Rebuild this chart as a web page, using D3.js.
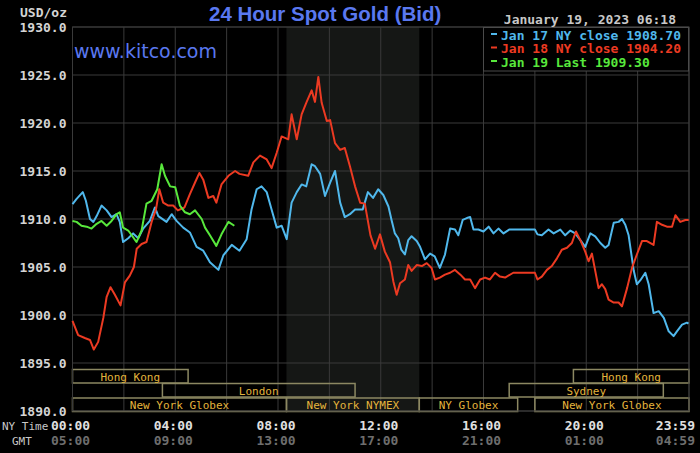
<!DOCTYPE html>
<html>
<head>
<meta charset="utf-8">
<script src="https://cdn.jsdelivr.net/npm/d3@7"></script>
<style>
  body { margin: 0; background: #000; }
  svg { display: block; background: #000; }
</style>
</head>
<body>
<svg width="700" height="453"></svg>
<script>
// Series: [hour of NY day, price]
const jan17 = [
  [0,1911.55],[0.16,1912.1],[0.4,1912.8],[0.52,1911.9],[0.68,1910],[0.81,1909.7],[0.94,1910.3],[1.13,1911.4],
  [1.33,1910.9],[1.52,1910.2],[1.71,1910.5],[1.84,1909.7],[1.97,1907.6],[2.17,1908],[2.36,1908.5],[2.56,1908],
  [2.75,1909],[3.01,1909.8],[3.21,1911.2],[3.34,1910.3],[3.66,1909.7],[3.86,1910.5],[4.05,1909.8],[4.31,1909.1],
  [4.57,1908.6],[4.83,1907.1],[5.09,1906.7],[5.35,1905.5],[5.68,1904.7],[5.87,1906.2],[6.2,1907.3],[6.5,1906.7],
  [6.78,1907.9],[6.97,1911],[7.17,1913.1],[7.36,1913.4],[7.56,1912.8],[7.75,1911],[7.95,1909.1],[8.14,1909.3],
  [8.34,1907.9],[8.53,1911.7],[8.73,1912.8],[8.92,1913.6],[9.1,1913.4],[9.31,1915.7],[9.44,1915.5],[9.64,1914.7],
  [9.83,1912.4],[10.03,1913.8],[10.22,1915],[10.42,1911.7],[10.6,1910.2],[10.8,1910.5],[11,1911],[11.3,1911],
  [11.5,1912.8],[11.7,1912.2],[11.9,1913.1],[12.1,1912.5],[12.3,1911.3],[12.42,1909.9],[12.55,1908.5],[12.68,1908],
  [12.8,1906.8],[12.94,1906.3],[13.07,1907.8],[13.2,1908.2],[13.4,1907.7],[13.53,1907.1],[13.72,1905.8],[13.92,1906.4],
  [14.1,1906.1],[14.3,1904.9],[14.5,1906.3],[14.7,1909],[14.89,1908.9],[15.02,1908.3],[15.19,1909.9],[15.35,1910.1],
  [15.48,1910.2],[15.61,1908.9],[15.8,1908.9],[16,1908.7],[16.2,1909.2],[16.39,1908.5],[16.58,1909],[16.78,1908.5],
  [17,1908.9],[17.42,1908.9],[18,1908.9],[18.1,1908.4],[18.27,1908.3],[18.53,1908.9],[18.73,1908.5],[18.99,1908.9],
  [19.18,1908.3],[19.38,1908.8],[19.57,1908.5],[19.77,1907.8],[19.96,1907.1],[20.16,1908.5],[20.35,1908.2],[20.55,1907.5],
  [20.74,1907],[20.87,1907.3],[21.07,1909.6],[21.26,1909.7],[21.39,1910],[21.52,1909.4],[21.65,1908.3],[21.72,1907],
  [21.85,1904.6],[21.97,1903.2],[22.1,1903.6],[22.3,1904.4],[22.43,1903.2],[22.62,1900.2],[22.82,1900.4],[23.02,1899.7],
  [23.21,1898.3],[23.4,1897.8],[23.53,1898.3],[23.73,1899],[23.92,1899.2],[23.98,1899.1]
];
const jan18 = [
  [0,1899.4],[0.22,1897.9],[0.48,1897.6],[0.68,1897.4],[0.83,1896.4],[1.0,1897.2],[1.2,1899.7],[1.33,1901.9],
  [1.48,1902.9],[1.65,1902.1],[1.87,1901],[2.04,1903.4],[2.23,1904.1],[2.39,1905],[2.5,1906.9],[2.69,1907.4],
  [2.88,1907.6],[3.08,1909.7],[3.25,1911],[3.38,1913.1],[3.53,1911.7],[3.73,1911.4],[3.92,1911.4],[4.1,1910.9],
  [4.36,1911.2],[4.57,1912.6],[4.77,1913.8],[4.94,1914.8],[5.09,1914.1],[5.29,1912.2],[5.48,1912.4],[5.6,1911.7],
  [5.8,1913.6],[6.07,1914.5],[6.33,1915],[6.5,1914.7],[6.84,1914.5],[7.04,1915.9],[7.3,1916.6],[7.56,1916.2],
  [7.75,1915.3],[7.95,1916.9],[8.14,1918.6],[8.4,1918.3],[8.53,1920.9],[8.73,1918.3],[8.92,1920.9],[9.1,1922.1],
  [9.31,1923.4],[9.44,1922.2],[9.57,1924.8],[9.7,1922.1],[9.9,1920.2],[10.03,1920.3],[10.22,1917.9],[10.42,1917.2],
  [10.6,1917.4],[10.8,1915.5],[11.0,1913.4],[11.2,1911.7],[11.38,1911.6],[11.6,1908.3],[11.78,1906.9],[11.97,1908.4],
  [12.16,1906.6],[12.36,1905.5],[12.49,1903.5],[12.62,1902.1],[12.75,1903.3],[12.94,1903.7],[13.07,1905.2],[13.2,1904.6],
  [13.4,1905.2],[13.6,1905.1],[13.79,1905.4],[13.98,1904.9],[14.11,1903.7],[14.3,1903.9],[14.5,1904.2],[14.7,1904.4],
  [14.89,1904.7],[15.1,1904.2],[15.28,1903.7],[15.48,1903.7],[15.67,1902.8],[15.87,1903.7],[16.06,1903.9],[16.25,1903.7],
  [16.45,1904.4],[16.64,1904],[16.84,1903.9],[17.16,1904.4],[17.42,1904.4],[18,1904.4],[18.1,1903.7],[18.27,1904],
  [18.47,1904.7],[18.66,1905.1],[18.86,1905.9],[19.05,1906.8],[19.25,1907],[19.44,1907.5],[19.6,1908.7],[19.77,1907.8],
  [19.96,1906.6],[20.09,1905.6],[20.22,1906.4],[20.35,1904.6],[20.48,1902.8],[20.61,1903.2],[20.74,1902.7],[20.87,1901.6],
  [21.07,1901.3],[21.26,1901.3],[21.39,1900.9],[21.59,1902.8],[21.78,1904.9],[21.97,1906.3],[22.17,1907.7],[22.36,1907.7],
  [22.62,1907.3],[22.75,1909.7],[22.95,1909.4],[23.14,1909.2],[23.34,1909.2],[23.47,1910.4],[23.66,1909.7],[23.86,1909.9],
  [23.99,1909.9]
];
const jan19 = [
  [0,1909.8],[0.16,1909.7],[0.35,1909.3],[0.55,1909.2],[0.74,1909],[0.94,1909.5],[1.13,1909.8],[1.33,1909.3],
  [1.52,1909.8],[1.72,1910.5],[1.84,1910.7],[1.97,1909.1],[2.17,1908.8],[2.36,1908.1],[2.49,1907.6],[2.69,1908.8],
  [2.88,1911.6],[3.08,1911.9],[3.3,1913.1],[3.47,1915.7],[3.6,1914.5],[3.8,1913.4],[4.0,1913.3],[4.18,1911.4],
  [4.38,1910.7],[4.57,1910.5],[4.77,1910.9],[5.03,1910],[5.16,1909.1],[5.35,1908.3],[5.6,1907.2],[5.8,1908.4],
  [6.07,1909.7],[6.3,1909.3]
];

const seriesNames = ["Jan 17 NY close 1908.70", "Jan 18 NY close 1904.20", "Jan 19 Last 1909.30"];
const seriesColors = ["#50b8ec", "#ec3a22", "#58e83c"];

const yTicks = [1890, 1895, 1900, 1905, 1910, 1915, 1920, 1925, 1930];
const xTickHours = [0, 4, 8, 12, 16, 20, 24];
const nyTimeLabels = ["00:00", "04:00", "08:00", "12:00", "16:00", "20:00", "23:59"];
const gmtLabels = ["05:00", "09:00", "13:00", "17:00", "21:00", "01:00", "04:59"];

// NYMEX trading window (shaded)
const nymexHours = [8.33, 13.5];

// Market sessions: row 0 = top
const sessions = [
  { name: "Hong Kong", row: 0, start: 0, end: 4.5 },
  { name: "Hong Kong", row: 0, start: 19.5, end: 24 },
  { name: "London", row: 1, start: 3.5, end: 11 },
  { name: "Sydney", row: 1, start: 17, end: 23 },
  { name: "New York Globex", row: 2, start: 0, end: 8.33 },
  { name: "New York NYMEX", row: 2, start: 8.33, end: 13.5 },
  { name: "NY Globex", row: 2, start: 13.5, end: 17.33 },
  { name: "New York Globex", row: 2, start: 18, end: 24 }
];

const svg = d3.select('svg');
const mono = "'DejaVu Sans Mono', monospace";

const x = d3.scaleLinear().domain([0, 24]).range([72.5, 689]);
const y = d3.scaleLinear().domain([1890, 1930]).range([411, 27]);

// NYMEX shading
svg.append('rect')
  .attr('x', x(nymexHours[0]))
  .attr('y', y(1930))
  .attr('width', x(nymexHours[1]) - x(nymexHours[0]))
  .attr('height', y(1890) - y(1930))
  .attr('fill', '#151715');

// Grid lines
svg.append('g')
  .selectAll('line')
  .data(d3.range(0, 25, 2))
  .join('line')
  .attr('x1', d => x(d)).attr('x2', d => x(d))
  .attr('y1', y(1930)).attr('y2', y(1890))
  .attr('stroke', '#3a3a3a');

svg.append('g')
  .selectAll('line')
  .data(yTicks)
  .join('line')
  .attr('x1', x(0)).attr('x2', x(24))
  .attr('y1', d => y(d)).attr('y2', d => y(d))
  .attr('stroke', '#3a3a3a');

// Y axis labels
const yAxis = svg.append('g')
  .attr('transform', `translate(${x(0)},0)`)
  .call(d3.axisLeft(y).tickValues(yTicks).tickFormat(d3.format('.1f')).tickSize(0).tickPadding(6));
yAxis.select('.domain').remove();
yAxis.selectAll('text')
  .attr('fill', '#d4d4d4')
  .style('font-family', mono)
  .style('font-size', '13px')
  .style('font-weight', 'bold');

svg.append('text')
  .attr('x', 67).attr('y', 17)
  .attr('text-anchor', 'end')
  .attr('fill', '#d4d4d4')
  .style('font-family', mono).style('font-size', '13px').style('font-weight', 'bold')
  .text('USD/oz');

// Market session boxes
const rowTop = [369.5, 383.5, 398];
const rowH = 13.5;
const sess = svg.append('g');
sess.selectAll('rect')
  .data(sessions)
  .join('rect')
  .attr('x', d => x(d.start))
  .attr('y', d => rowTop[d.row])
  .attr('width', d => x(d.end) - x(d.start))
  .attr('height', rowH)
  .attr('fill', 'none')
  .attr('stroke', '#8c8862')
  .attr('stroke-width', 1.5);
sess.selectAll('text')
  .data(sessions)
  .join('text')
  .attr('x', d => (x(d.start) + x(d.end)) / 2)
  .attr('y', d => rowTop[d.row] + 11)
  .attr('text-anchor', 'middle')
  .attr('fill', '#e4b43c')
  .style('font-family', mono)
  .style('font-size', '11px')
  .text(d => d.name);

// Plot border
svg.append('rect')
  .attr('x', x(0)).attr('y', y(1930))
  .attr('width', x(24) - x(0)).attr('height', y(1890) - y(1930))
  .attr('fill', 'none').attr('stroke', '#3a3a3a');

// Price lines
const line = d3.line().x(d => x(d[0])).y(d => y(d[1]));
[jan17, jan18, jan19].forEach((s, i) => {
  svg.append('path')
    .datum(s)
    .attr('d', line)
    .attr('fill', 'none')
    .attr('stroke', seriesColors[i])
    .attr('stroke-width', 2)
    .attr('stroke-linejoin', 'round');
});

// X labels: NY time and GMT
const xl = svg.append('g').style('font-family', mono).style('font-size', '13px').style('font-weight', 'bold');
xl.selectAll('text.ny')
  .data(xTickHours)
  .join('text')
  .attr('class', 'ny')
  .attr('x', (d, i) => i === xTickHours.length - 1 ? x(d) + 6 : x(d) - 2)
  .attr('y', 430)
  .attr('text-anchor', (d, i) => i === xTickHours.length - 1 ? 'end' : 'middle')
  .attr('fill', '#e0e0e0')
  .text((d, i) => nyTimeLabels[i]);
xl.selectAll('text.gmt')
  .data(xTickHours)
  .join('text')
  .attr('class', 'gmt')
  .attr('x', (d, i) => i === xTickHours.length - 1 ? x(d) + 6 : x(d) - 2)
  .attr('y', 445)
  .attr('text-anchor', (d, i) => i === xTickHours.length - 1 ? 'end' : 'middle')
  .attr('fill', '#6e6e6e')
  .text((d, i) => gmtLabels[i]);

svg.append('text').attr('x', 2).attr('y', 430).attr('fill', '#c8c8c8')
  .style('font-family', mono).style('font-size', '11px').text('NY Time');
svg.append('text').attr('x', 12).attr('y', 445).attr('fill', '#c8c8c8')
  .style('font-family', mono).style('font-size', '11px').text('GMT');

// Title and site name
svg.append('text')
  .attr('x', 209).attr('y', 21)
  .attr('fill', '#5a78f0')
  .style('font-family', "'Liberation Sans', Arial, sans-serif")
  .style('font-size', '20.5px')
  .style('font-weight', 'bold')
  .text('24 Hour Spot Gold (Bid)');

svg.append('text')
  .attr('x', 74).attr('y', 58)
  .attr('fill', '#5a78f0')
  .style('font-family', "'DejaVu Sans', sans-serif")
  .style('font-size', '19px')
  .text('www.kitco.com');

// Date stamp
svg.append('text')
  .attr('x', 676).attr('y', 24)
  .attr('text-anchor', 'end')
  .attr('fill', '#c8c8c8')
  .style('font-family', mono).style('font-size', '13px').style('font-weight', 'bold')
  .text('January 19, 2023 06:18');

// Legend
const legend = svg.append('g');
legend.append('rect')
  .attr('x', 483.5).attr('y', 27.5)
  .attr('width', 205).attr('height', 43.5)
  .attr('fill', '#000').attr('stroke', '#4a4a4a');
const rows = legend.selectAll('g.item')
  .data(seriesNames)
  .join('g')
  .attr('class', 'item')
  .attr('transform', (d, i) => `translate(0,${39.5 + i * 13.5})`);
rows.append('line')
  .attr('x1', 491).attr('x2', 497)
  .attr('y1', -5.5).attr('y2', -5.5)
  .attr('stroke', (d, i) => seriesColors[i])
  .attr('stroke-width', 2);
rows.append('text')
  .attr('x', 501)
  .attr('fill', (d, i) => seriesColors[i])
  .style('font-family', mono).style('font-size', '13px').style('font-weight', 'bold')
  .text(d => d);
</script>
</body>
</html>
